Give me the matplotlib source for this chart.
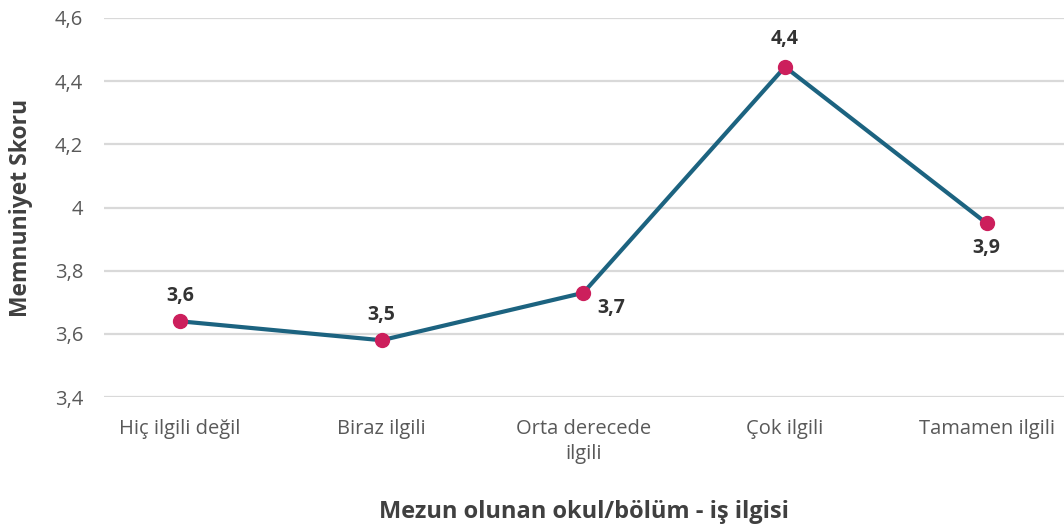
import matplotlib.pyplot as plt

plt.rcParams['font.family'] = ['Open Sans', 'DejaVu Sans']

categories = ['Hiç ilgili değil', 'Biraz ilgili', 'Orta derecede\nilgili', 'Çok ilgili', 'Tamamen ilgili']
scores = [3.64, 3.58, 3.73, 4.445, 3.95]
labels = ['3,6', '3,5', '3,7', '4,4', '3,9']
yticks = [3.4, 3.6, 3.8, 4.0, 4.2, 4.4, 4.6]
ytick_labels = ['3,4', '3,6', '3,8', '4', '4,2', '4,4', '4,6']

# where each value label sits relative to its point (points offset)
label_offsets = [(0, 18), (0, 18), (20, -11), (0, 20), (0, -18)]

fig = plt.figure(figsize=(10.64, 5.26), dpi=100)
ax = fig.add_axes([0.0977, 0.245, 0.902, 0.721])

x = list(range(len(categories)))
ax.plot(x, scores, color='#1C6380', lw=3, zorder=3)
ax.plot(x, scores, 'o', color='#CC1F5C', ms=10, zorder=4)

for xi, yi, lab, off in zip(x, scores, labels, label_offsets):
    ax.annotate(lab, (xi, yi), xytext=off, textcoords='offset points',
                ha='center', va='center', fontsize=14, fontweight='bold',
                color='#333333')

ax.set_xlim(-0.377, 4.382)
ax.set_ylim(3.4, 4.6)
ax.set_yticks(yticks)
ax.set_yticklabels(ytick_labels)
ax.set_xticks(x)
ax.set_xticklabels(categories, linespacing=1.3)
ax.tick_params(axis='both', length=0, labelsize=14.5, labelcolor='#595959')
ax.tick_params(axis='x', pad=16)
ax.tick_params(axis='y', pad=15)
ax.grid(axis='y', color='#D9D9D9', lw=1.6)
ax.set_axisbelow(True)
for s in ax.spines.values():
    s.set_visible(False)

ax.set_ylabel('Memnuniyet Skoru', fontsize=16.5, fontweight='bold', color='#404040', labelpad=16)
ax.set_xlabel('Mezun olunan okul/bölüm - iş ilgisi', fontsize=17, fontweight='bold',
              color='#404040', labelpad=26)

fig.savefig('out.png', dpi=100)
